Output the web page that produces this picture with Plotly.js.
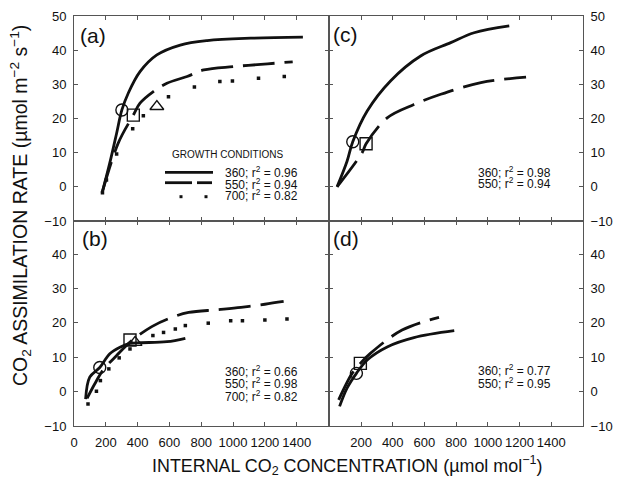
<!DOCTYPE html>
<html>
<head>
<meta charset="utf-8">
<script src="https://cdn.plot.ly/plotly-3.0.1.min.js"></script>
<style>html,body{margin:0;padding:0;background:#fff;}#chart{width:617px;height:479px;}</style>
</head>
<body>
<div id="chart"></div>
<script>
// ---------- data ----------
// panel (a)
const aX360 = [177, 225, 268, 301, 341, 415, 521, 668, 837, 1111, 1439];
const aY360 = [-1.7, 7.0, 15.7, 22.5, 27.4, 33.7, 38.6, 41.5, 42.8, 43.5, 43.8];
const aX550 = [177, 278, 373, 415, 499, 584, 711, 816, 1006, 1217, 1375];
const aY550 = [-1.7, 12.8, 21.0, 24.5, 27.9, 30.3, 32.3, 34.2, 35.2, 36.0, 36.6];
const aX700 = [179, 204, 268, 369, 436, 594, 757, 917, 996, 1160, 1322];
const aY700 = [-1.7, 2.0, 9.6, 17.0, 20.8, 26.4, 29.2, 30.8, 31.0, 31.8, 32.3];
const aMarkX = [301, 373, 521];
const aMarkY = [22.5, 21.0, 23.5];
// panel (b)
const bX360 = [73, 99, 162, 225, 289, 352, 415, 584, 700];
const bY360 = [-2.2, 4.2, 7.0, 11.0, 12.9, 14.0, 14.2, 14.5, 15.5];
const bX550 = [82, 130, 183, 268, 363, 489, 600, 721, 900, 1050, 1200, 1318];
const bY550 = [-2.0, 2.2, 6.3, 10.5, 14.8, 18.9, 21.3, 23.0, 23.8, 24.5, 25.4, 26.2];
const bX700 = [88, 141, 166, 219, 284, 352, 496, 563, 637, 700, 844, 985, 1059, 1200, 1339];
const bY700 = [-3.6, 0.1, 3.2, 6.6, 9.8, 12.4, 16.3, 17.2, 18.2, 19.2, 19.9, 20.6, 20.6, 20.8, 21.1];
const bMarkX = [162, 352, 384];
const bMarkY = [7.0, 15.0, 14.3];
// panel (c)
const cX360 = [49, 112, 148, 239, 386, 576, 766, 913, 1135];
const cY360 = [0, 7.5, 13.2, 22.2, 31.0, 38.3, 42.2, 45.1, 47.1];
const cX550 = [49, 207, 232, 365, 534, 703, 956, 1241];
const cY550 = [0, 10.0, 12.6, 20.2, 24.1, 27.1, 30.5, 32.1];
const cMarkX = [148, 232];
const cMarkY = [13.2, 12.6];
// panel (d)
const dX360 = [65, 112, 171, 239, 365, 534, 788];
const dY360 = [-4.3, 1.0, 5.3, 9.2, 13.0, 15.7, 17.7];
const dX550 = [59, 144, 196, 259, 459, 692];
const dY550 = [-2.4, 5.3, 8.2, 11.1, 17.9, 21.6];
const dMarkX = [171, 196];
const dMarkY = [5.3, 8.2];

const xTicks = [0, 200, 400, 600, 800, 1000, 1200, 1400];
const xTickTextB = ['0', '200', '400', '600', '800', '1000', '1200', '1400'];
const xTickTextD = ['', '200', '400', '600', '800', '1000', '1200', '1400'];
const yTicksTop = [-10, 0, 10, 20, 30, 40, 50];
const yTicksBottom = [-10, 0, 10, 20, 30, 40];

const legendA = ['360; r<sup>2</sup> = 0.96', '550; r<sup>2</sup> = 0.94', '700; r<sup>2</sup> = 0.82'];
const statsB = ['360; r<sup>2</sup> = 0.66', '550; r<sup>2</sup> = 0.98', '700; r<sup>2</sup> = 0.82'];
const statsC = ['360; r<sup>2</sup> = 0.98', '550; r<sup>2</sup> = 0.94'];
const statsD = ['360; r<sup>2</sup> = 0.77', '550; r<sup>2</sup> = 0.95'];

// ---------- styles ----------
const INK = '#111';
const solid = {color: INK, width: 2.8, shape: 'spline', smoothing: 1};
const dashed = {color: INK, width: 2.8, shape: 'spline', smoothing: 1, dash: '32px,10px'};
const dotMarker = {symbol: 'square', size: 3.5, color: INK};
const openSyms = ['circle-open', 'square-open', 'triangle-up-open'];

function lineTrace(x, y, line, xa, ya) {
  return {x: x, y: y, mode: 'lines', line: line, xaxis: xa, yaxis: ya, hoverinfo: 'skip'};
}
function dotTrace(x, y, xa, ya) {
  return {x: x, y: y, mode: 'markers', marker: dotMarker, xaxis: xa, yaxis: ya, hoverinfo: 'skip'};
}
function markTrace(x, y, xa, ya) {
  return {x: x, y: y, mode: 'markers', xaxis: xa, yaxis: ya, hoverinfo: 'skip',
    marker: {symbol: openSyms.slice(0, x.length), size: 12, color: INK, line: {color: INK, width: 1.4}}};
}

const traces = [
  lineTrace(aX360, aY360, solid, 'x', 'y'),
  lineTrace(aX550, aY550, dashed, 'x', 'y'),
  dotTrace(aX700, aY700, 'x', 'y'),
  markTrace(aMarkX, aMarkY, 'x', 'y'),

  lineTrace(cX360, cY360, solid, 'x2', 'y2'),
  lineTrace(cX550, cY550, dashed, 'x2', 'y2'),
  markTrace(cMarkX, cMarkY, 'x2', 'y2'),

  lineTrace(bX360, bY360, solid, 'x3', 'y3'),
  lineTrace(bX550, bY550, dashed, 'x3', 'y3'),
  dotTrace(bX700, bY700, 'x3', 'y3'),
  markTrace(bMarkX, bMarkY, 'x3', 'y3'),

  lineTrace(dX360, dY360, solid, 'x4', 'y4'),
  lineTrace(dX550, dY550, dashed, 'x4', 'y4'),
  markTrace(dMarkX, dMarkY, 'x4', 'y4')
];

const AX = {
  showline: true, linecolor: '#555', linewidth: 1, mirror: 'ticks',
  ticks: 'inside', ticklen: 4, tickwidth: 1, tickcolor: '#555',
  showgrid: false, zeroline: false, fixedrange: true,
  tickfont: {size: 13, color: INK}, ticklabelstandoff: 4
};
function ax(extra) { return Object.assign({}, AX, extra); }

const TXT = {family: 'Liberation Sans, Arial, sans-serif', color: INK};
function note(text, x, y, size, xanchor, extra) {
  return Object.assign({text: text, xref: 'paper', yref: 'paper', x: x, y: y,
    xanchor: xanchor, yanchor: 'middle', showarrow: false,
    font: Object.assign({size: size}, TXT)}, extra || {});
}
// paper coords helpers from pixels (plot area: left 74, top 16, width 509, height 410)
const px = v => (v - 74) / 509;
const py = v => (426 - v) / 410;

const annotations = [
  note('(a)', px(78), py(35), 21, 'left'),
  note('(c)', px(331), py(34), 21, 'left'),
  note('(b)', px(80), py(238), 21, 'left'),
  note('(d)', px(331), py(238), 21, 'left'),
  note('GROWTH CONDITIONS', px(170), py(154.5), 10, 'left'),
  note(legendA[0], px(223), py(172), 12, 'left'),
  note(legendA[1], px(223), py(183.5), 12, 'left'),
  note(legendA[2], px(223), py(195), 12, 'left'),
  note(statsB[0], px(300), py(370.5), 12, 'right'),
  note(statsB[1], px(300), py(383), 12, 'right'),
  note(statsB[2], px(300), py(395.5), 12, 'right'),
  note(statsC[0], px(553), py(171.5), 12, 'right'),
  note(statsC[1], px(553), py(183), 12, 'right'),
  note(statsD[0], px(553), py(370), 12, 'right'),
  note(statsD[1], px(553), py(382.5), 12, 'right'),
  note('INTERNAL CO<sub>2</sub> CONCENTRATION (\u00b5mol mol<sup>\u22121</sup>)', px(347), py(465), 17.9, 'center'),
  note('CO<sub>2</sub> ASSIMILATION RATE (\u00b5mol m<sup>\u22122</sup> s<sup>\u22121</sup>)', px(20), py(206), 19.5, 'center', {textangle: -90})
];

const shapes = [
  {type: 'line', xref: 'paper', yref: 'paper', x0: px(165), x1: px(213), y0: py(172.3), y1: py(172.3), line: {color: INK, width: 2.8}},
  {type: 'line', xref: 'paper', yref: 'paper', x0: px(165), x1: px(192), y0: py(182.7), y1: py(182.7), line: {color: INK, width: 2.8}},
  {type: 'line', xref: 'paper', yref: 'paper', x0: px(197), x1: px(212), y0: py(182.7), y1: py(182.7), line: {color: INK, width: 2.8}},
  {type: 'rect', xref: 'paper', yref: 'paper', x0: px(179.5), x1: px(182.5), y0: py(198.2), y1: py(195.2), line: {width: 0}, fillcolor: INK},
  {type: 'rect', xref: 'paper', yref: 'paper', x0: px(204.5), x1: px(207.5), y0: py(198.2), y1: py(195.2), line: {width: 0}, fillcolor: INK}
];

const layout = {
  width: 617, height: 479,
  margin: {l: 74, r: 34, t: 16, b: 53, pad: 0},
  paper_bgcolor: '#fff', plot_bgcolor: '#fff',
  showlegend: false,
  font: {family: 'Liberation Sans, Arial, sans-serif', size: 13, color: INK},
  xaxis:  ax({domain: [0, 0.5], range: [0, 1600], anchor: 'y', tickvals: xTicks, showticklabels: false}),
  yaxis:  ax({domain: [0.5, 1], range: [-10, 50], anchor: 'x', tickvals: yTicksTop}),
  xaxis2: ax({domain: [0.5, 1], range: [-5, 1600], anchor: 'y2', tickvals: xTicks, showticklabels: false}),
  yaxis2: ax({domain: [0.5, 1], range: [-10, 50], anchor: 'x2', side: 'right', tickvals: yTicksTop}),
  xaxis3: ax({domain: [0, 0.5], range: [0, 1600], anchor: 'y3', tickvals: xTicks, ticktext: xTickTextB}),
  yaxis3: ax({domain: [0, 0.5], range: [-10, 49.6], anchor: 'x3', tickvals: yTicksBottom}),
  xaxis4: ax({domain: [0.5, 1], range: [-5, 1600], anchor: 'y4', tickvals: xTicks, ticktext: xTickTextD}),
  yaxis4: ax({domain: [0, 0.5], range: [-10, 49.6], anchor: 'x4', side: 'right', tickvals: yTicksBottom}),
  annotations: annotations,
  shapes: shapes
};

Plotly.newPlot('chart', traces, layout, {staticPlot: true, displayModeBar: false});
</script>
</body>
</html>
